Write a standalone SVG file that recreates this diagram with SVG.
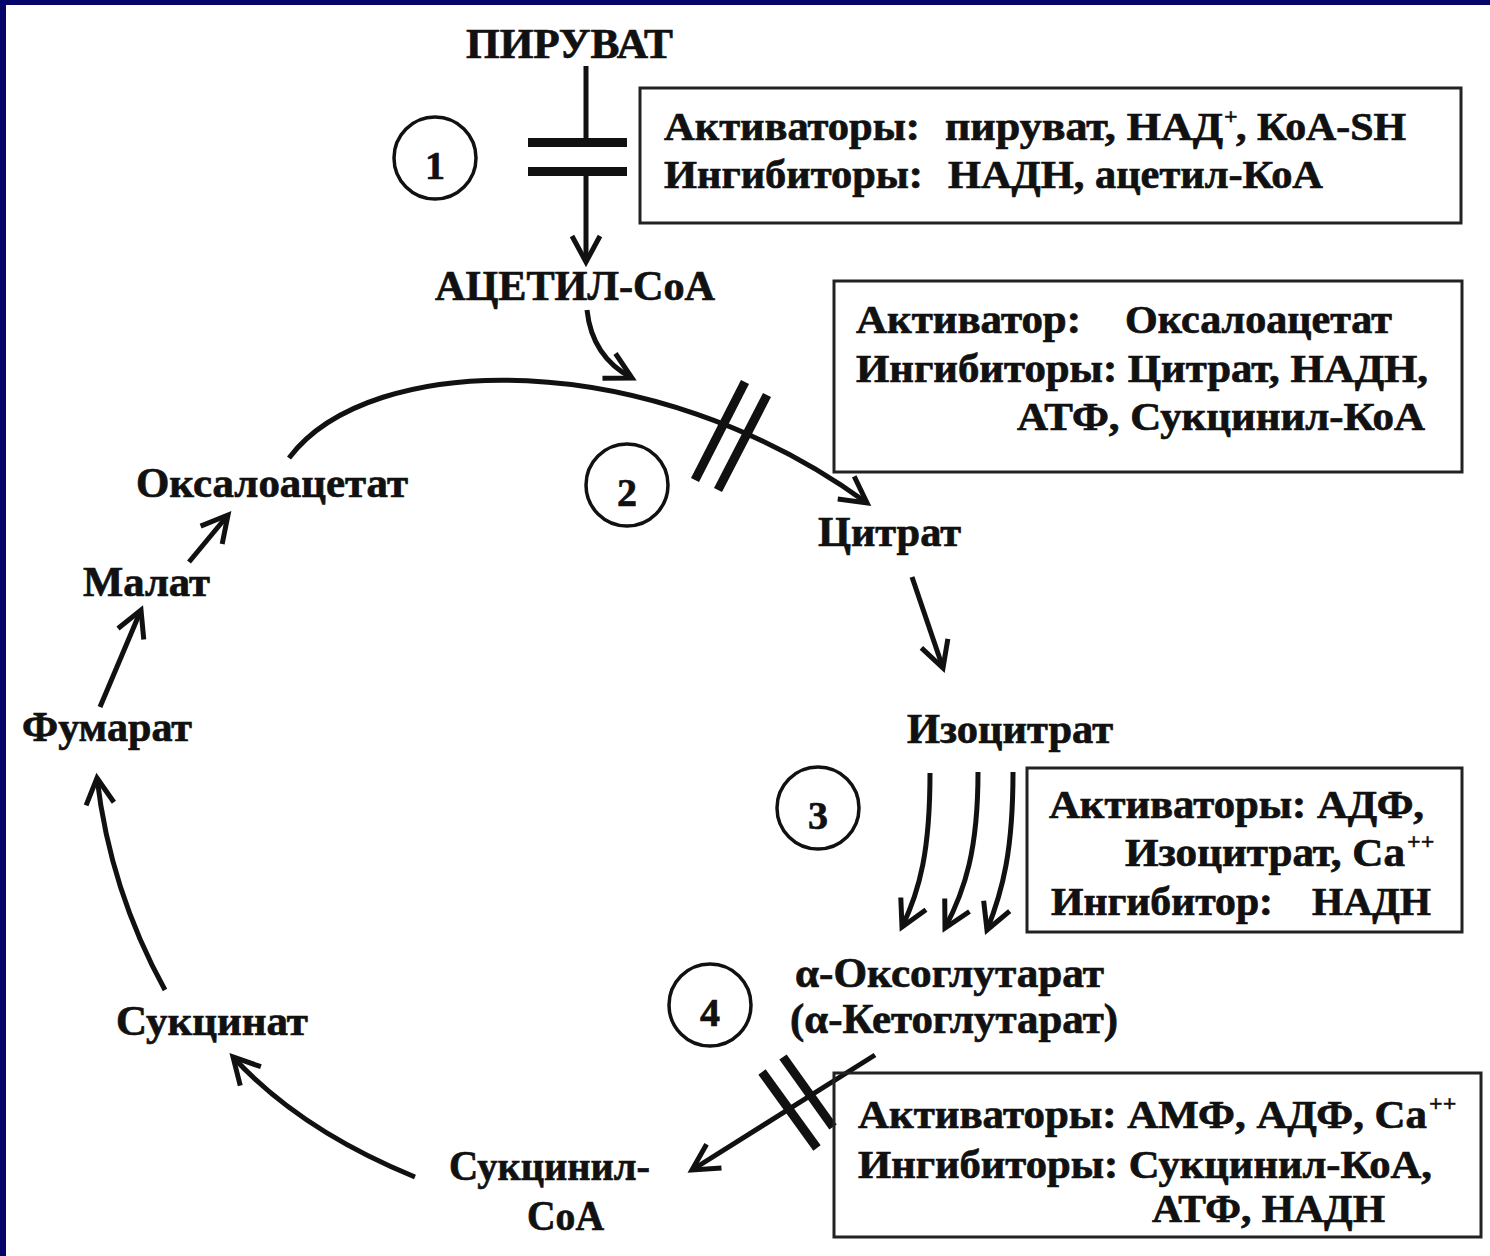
<svg xmlns="http://www.w3.org/2000/svg" width="1490" height="1256" viewBox="0 0 1490 1256">
<style>
text{font-family:"Liberation Serif","Times New Roman",serif;font-weight:bold;fill:#111;stroke:#111;stroke-width:0.7;}
.lbl text{font-size:42px}
.box text{font-size:40px}
.box text.sup{font-size:24px;stroke-width:0.4}
.box rect{fill:none;stroke:#222;stroke-width:3}
.num circle{fill:none;stroke:#111;stroke-width:3.5}
.num text{font-size:40px;text-anchor:middle}
.c{fill:none;stroke:#111;stroke-width:5}
.arr{marker-end:url(#ah)}
.bar{stroke:#111;stroke-width:9;fill:none}
</style>
<defs>
<marker id="ah" markerUnits="userSpaceOnUse" markerWidth="40" markerHeight="40" viewBox="-32 -20 36 40" refX="0" refY="0" orient="auto" overflow="visible">
<path d="M-26,-14 L0,0 L-26,14" fill="none" stroke="#111" stroke-width="5"/>
</marker>
</defs>
<rect x="0" y="0" width="1490" height="1256" fill="#fff"/>
<rect x="0" y="0" width="1490" height="5" fill="#05056a"/>
<rect x="0" y="0" width="6" height="1256" fill="#05056a"/>

<g id="connectors">
<line class="c" x1="586" y1="66" x2="586" y2="140"/>
<line class="bar" x1="528" y1="142.5" x2="627" y2="142.5"/>
<line class="bar" x1="528" y1="171.5" x2="627" y2="171.5"/>
<line class="c arr" x1="586" y1="176" x2="586" y2="262"/>
<path class="c arr" d="M587,310 Q592,357 632,378"/>
<path class="c arr" d="M289,458 C370,350 650,345 867,503"/>
<line class="bar" x1="745" y1="382" x2="695" y2="480"/>
<line class="bar" x1="767" y1="395" x2="718" y2="490"/>
<line class="c arr" x1="912" y1="577" x2="943" y2="668"/>
<path class="c arr" d="M930,773 C930,850 920,890 902,927"/>
<path class="c arr" d="M978,772 C978,850 965,890 945,928"/>
<path class="c arr" d="M1013,772 C1013,850 1003,890 987,930"/>
<line class="c arr" x1="875" y1="1055" x2="692" y2="1170"/>
<line class="bar" x1="762" y1="1072" x2="817" y2="1148"/>
<line class="bar" x1="783" y1="1057" x2="833" y2="1127"/>
<path class="c arr" d="M415,1177 Q300,1130 233,1057"/>
<path class="c arr" d="M165,990 Q110,890 97,778"/>
<line class="c arr" x1="100" y1="707" x2="141" y2="610"/>
<line class="c arr" x1="189" y1="562" x2="228" y2="515"/>
</g>

<g class="lbl">
<g id="n-pyruvate"><text x="466" y="58" textLength="207" lengthAdjust="spacingAndGlyphs">ПИРУВАТ</text></g>
<g id="n-acetylcoa"><text x="435" y="300" textLength="280" lengthAdjust="spacingAndGlyphs">АЦЕТИЛ-СоА</text></g>
<g id="n-oxaloacetate"><text x="136" y="497" textLength="272" lengthAdjust="spacingAndGlyphs">Оксалоацетат</text></g>
<g id="n-malate"><text x="83" y="596" textLength="127" lengthAdjust="spacingAndGlyphs">Малат</text></g>
<g id="n-fumarate"><text x="22" y="741" textLength="170" lengthAdjust="spacingAndGlyphs">Фумарат</text></g>
<g id="n-succinate"><text x="116" y="1035" textLength="192" lengthAdjust="spacingAndGlyphs">Сукцинат</text></g>
<g id="n-succinylcoa"><text x="449" y="1180" textLength="201" lengthAdjust="spacingAndGlyphs">Сукцинил-</text><text x="527" y="1230" textLength="77" lengthAdjust="spacingAndGlyphs">СоА</text></g>
<g id="n-citrate"><text x="818" y="546" textLength="143" lengthAdjust="spacingAndGlyphs">Цитрат</text></g>
<g id="n-isocitrate"><text x="907" y="743" textLength="206" lengthAdjust="spacingAndGlyphs">Изоцитрат</text></g>
<g id="n-oxoglutarate"><text x="795" y="987" textLength="309" lengthAdjust="spacingAndGlyphs">α-Оксоглутарат</text><text x="790" y="1033" textLength="328" lengthAdjust="spacingAndGlyphs">(α-Кетоглутарат)</text></g>
</g>

<g class="num">
<g id="step1"><circle cx="435" cy="158" r="41"/><text x="435" y="179">1</text></g>
<g id="step2"><circle cx="627" cy="485" r="41"/><text x="627" y="506">2</text></g>
<g id="step3"><circle cx="818" cy="808" r="41"/><text x="818" y="829">3</text></g>
<g id="step4"><circle cx="710" cy="1005" r="41"/><text x="710" y="1026">4</text></g>
</g>

<g class="box">
<g id="box1">
<rect x="640" y="88" width="821" height="135"/>
<text x="664" y="140" textLength="256" lengthAdjust="spacingAndGlyphs">Активаторы:</text>
<text x="945" y="140" textLength="278" lengthAdjust="spacingAndGlyphs">пируват, НАД</text>
<text class="sup" x="1224" y="124">+</text>
<text x="1236" y="140" textLength="170" lengthAdjust="spacingAndGlyphs">, КоА-SH</text>
<text x="664" y="188" textLength="259" lengthAdjust="spacingAndGlyphs">Ингибиторы:</text>
<text x="948" y="188" textLength="375" lengthAdjust="spacingAndGlyphs">НАДН, ацетил-КоА</text>
</g>
<g id="box2">
<rect x="834" y="281" width="628" height="191"/>
<text x="856" y="333" textLength="225" lengthAdjust="spacingAndGlyphs">Активатор:</text>
<text x="1125" y="333" textLength="267" lengthAdjust="spacingAndGlyphs">Оксалоацетат</text>
<text x="856" y="382" textLength="572" lengthAdjust="spacingAndGlyphs">Ингибиторы: Цитрат, НАДН,</text>
<text x="1017" y="430" textLength="408" lengthAdjust="spacingAndGlyphs">АТФ, Сукцинил-КоА</text>
</g>
<g id="box3">
<rect x="1027" y="768" width="435" height="164"/>
<text x="1049" y="818" textLength="375" lengthAdjust="spacingAndGlyphs">Активаторы: АДФ,</text>
<text x="1125" y="866" textLength="280" lengthAdjust="spacingAndGlyphs">Изоцитрат, Са</text>
<text class="sup" x="1407" y="849">++</text>
<text x="1051" y="915" textLength="222" lengthAdjust="spacingAndGlyphs">Ингибитор:</text>
<text x="1312" y="915" textLength="119" lengthAdjust="spacingAndGlyphs">НАДН</text>
</g>
<g id="box4">
<rect x="834" y="1073" width="647" height="164"/>
<text x="858" y="1128" textLength="569" lengthAdjust="spacingAndGlyphs">Активаторы: АМФ, АДФ, Са</text>
<text class="sup" x="1429" y="1111">++</text>
<text x="858" y="1178" textLength="574" lengthAdjust="spacingAndGlyphs">Ингибиторы: Сукцинил-КоА,</text>
<text x="1152" y="1222" textLength="233" lengthAdjust="spacingAndGlyphs">АТФ, НАДН</text>
</g>
</g>
</svg>
